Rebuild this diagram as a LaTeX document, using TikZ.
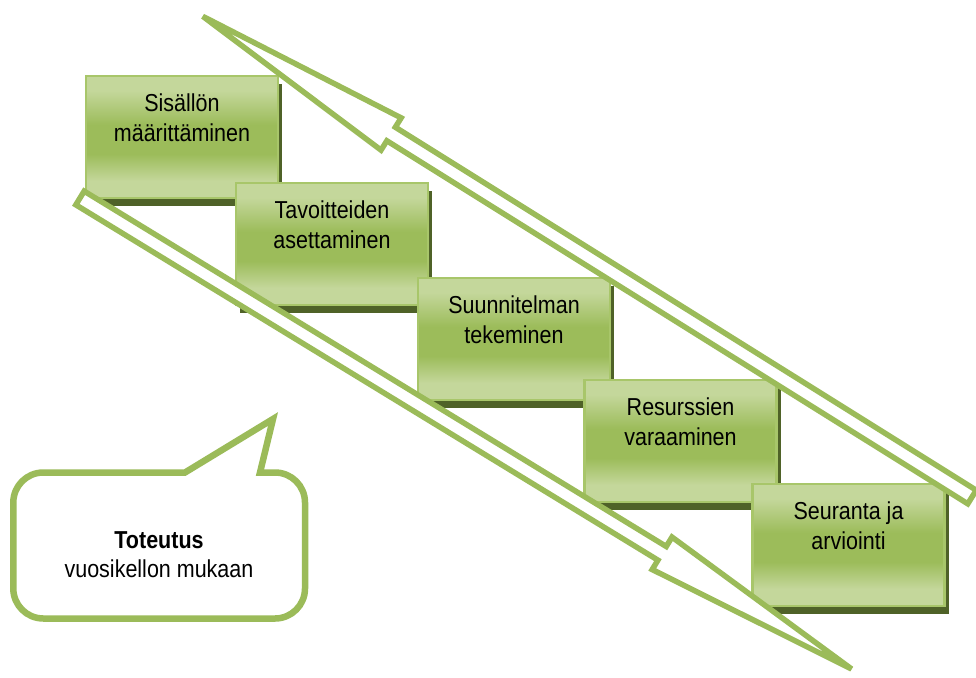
\documentclass[tikz,border=0pt]{standalone}
\usepackage{fontspec}
\setmainfont{Liberation Sans}
\usepackage{graphicx}
\usetikzlibrary{shadows}

\definecolor{gLight}{RGB}{196,215,155}
\definecolor{gMid}{RGB}{156,188,90}
\definecolor{gEdge}{RGB}{168,198,106}
\definecolor{gShadow}{RGB}{79,98,40}
\definecolor{gLine}{RGB}{155,187,89}

% light at top and bottom, deeper green band just above the middle
\pgfdeclareverticalshading{stepshade}{100bp}{color(0bp)=(gLight); color(32bp)=(gLight); color(43bp)=(gMid); color(55bp)=(gMid); color(69bp)=(gLight); color(100bp)=(gLight)}

% two centred lines, slightly tall lettering
\newcommand\twolines[2]{\scalebox{1}[1.14]{\begin{tabular}[t]{@{}c@{}}#1\\#2\end{tabular}}}

\tikzset{
  stepbox/.style={draw=gEdge, line width=2.5pt, shade, shading=stepshade,
    minimum width=192pt, minimum height=122pt, inner sep=0pt,
    drop shadow={shadow xshift=4pt, shadow yshift=-8pt, fill=gShadow, opacity=1}},
  steptext/.style={anchor=base, inner sep=0pt, font=\fontsize{21.5}{26.3}\selectfont},
  notetext/.style={anchor=base, inner sep=0pt, font=\fontsize{21.5}{25.5}\selectfont},
  flowarrow/.style={draw=gLine, fill=white, line width=5.5pt},
  bubble/.style={draw=gLine, fill=white, line width=6.5pt},
}

\begin{document}
\begin{tikzpicture}[x=1pt, y=-1pt]
  \useasboundingbox (0,0) rectangle (976,677);
  \fill[white] (0,0) rectangle (976,677);

  % staircase of steps
  \node[stepbox] (s1) at (182,137) {};
  \node[steptext] (s1t) at (182,111.5) {\twolines{Sisällön}{määrittäminen}};
  \node[stepbox] (s2) at (332,244) {};
  \node[steptext] (s2t) at (332,218.5) {\twolines{Tavoitteiden}{asettaminen}};
  \node[stepbox] (s3) at (514,339) {};
  \node[steptext] (s3t) at (514,313.5) {\twolines{Suunnitelman}{tekeminen}};
  \node[stepbox] (s4) at (680.5,441) {};
  \node[steptext] (s4t) at (680.5,415.5) {\twolines{Resurssien}{varaaminen}};
  \node[stepbox] (s5) at (848.5,545) {};
  \node[steptext] (s5t) at (848.5,519.5) {\twolines{Seuranta ja}{arviointi}};

  % downward block arrow
  \begin{scope}[shift={(80,198)}, rotate=-31.4]
    \draw[flowarrow] (0,-8) -- (682,-8) -- (682,-19) -- (904,0) -- (682,19)
      -- (682,8) -- (0,8) -- cycle;
  \end{scope}

  % upward block arrow (feedback)
  \begin{scope}[shift={(972,497)}, rotate=148]
    \draw[flowarrow] (0,-8) -- (685,-8) -- (685,-19) -- (907,0) -- (685,19)
      -- (685,8) -- (0,8) -- cycle;
  \end{scope}

  % speech bubble
  \draw[bubble] (185,472.5) -- (273,419) -- (260,472.5) -- (275,472.5)
    arc[start angle=90, end angle=0, radius=30pt] -- (305,588.5)
    arc[start angle=0, end angle=-90, radius=30pt] -- (43.3,618.5)
    arc[start angle=-90, end angle=-180, radius=30pt] -- (13.3,502.5)
    arc[start angle=180, end angle=90, radius=30pt] -- cycle;
  \node[notetext] (note) at (159,548) {\twolines{\bfseries Toteutus}{vuosikellon mukaan}};
\end{tikzpicture}
\end{document}
